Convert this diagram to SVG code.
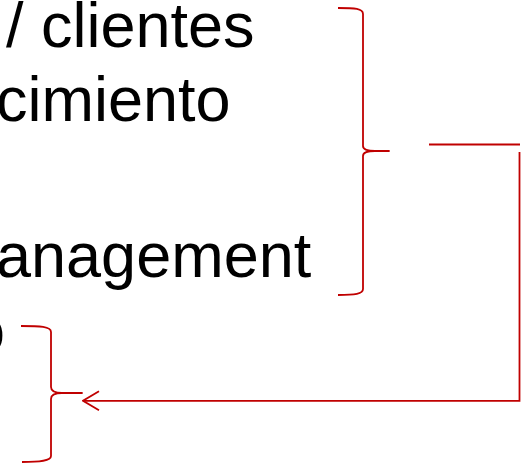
<svg xmlns="http://www.w3.org/2000/svg" width="528" height="464" viewBox="0 0 528 464">
  <style>
    .t { font-family: "Liberation Sans", Arial, sans-serif; font-size: 63px; fill: #000000; }
    .br { fill: none; stroke: #C00000; stroke-width: 1.8; stroke-linejoin: round; stroke-linecap: butt; }
    .cn { fill: none; stroke: #C00000; stroke-width: 1.8; }
  </style>
  <defs>
    <marker id="arrow" markerWidth="20" markerHeight="24" refX="19" refY="12" orient="auto" markerUnits="userSpaceOnUse">
      <path d="M3,2.5 L19,12 L3,21.5" fill="none" stroke="#C00000" stroke-width="1.8"/>
    </marker>
  </defs>
  <rect width="528" height="464" fill="#ffffff"/>

  <g id="text-lines">
    <g id="line1"><text class="t" x="6" y="47">/ clientes</text></g>
    <g id="line2"><text class="t" x="-4" y="121">cimiento</text></g>
    <g id="line4"><text class="t" x="-4" y="277">anagement</text></g>
    <g id="line5"><text class="t" x="-30" y="352">o</text></g>
  </g>

  <g id="brace-top">
    <path class="br" d="M338,8 C355,8 363,8.5 363,14 L363,146 Q363,151 375,151 L389,151 L375,151 Q363,151 363,156 L363,289 C363,294 355,295 338,295"/>
  </g>

  <g id="brace-bottom">
    <path class="br" d="M21,326 C40,326 51,326.5 51,332 L51,387 Q51,393 62,393 L82,393 L62,393 Q51,393 51,399 L51,456 C51,461 40,462 22,462"/>
  </g>

  <g id="connectors">
    <line class="cn" x1="429" y1="144.5" x2="520" y2="144.5"/>
    <path class="cn" d="M519.5,152 L519.5,400.8 L83,400.8" marker-end="url(#arrow)"/>
  </g>
</svg>
